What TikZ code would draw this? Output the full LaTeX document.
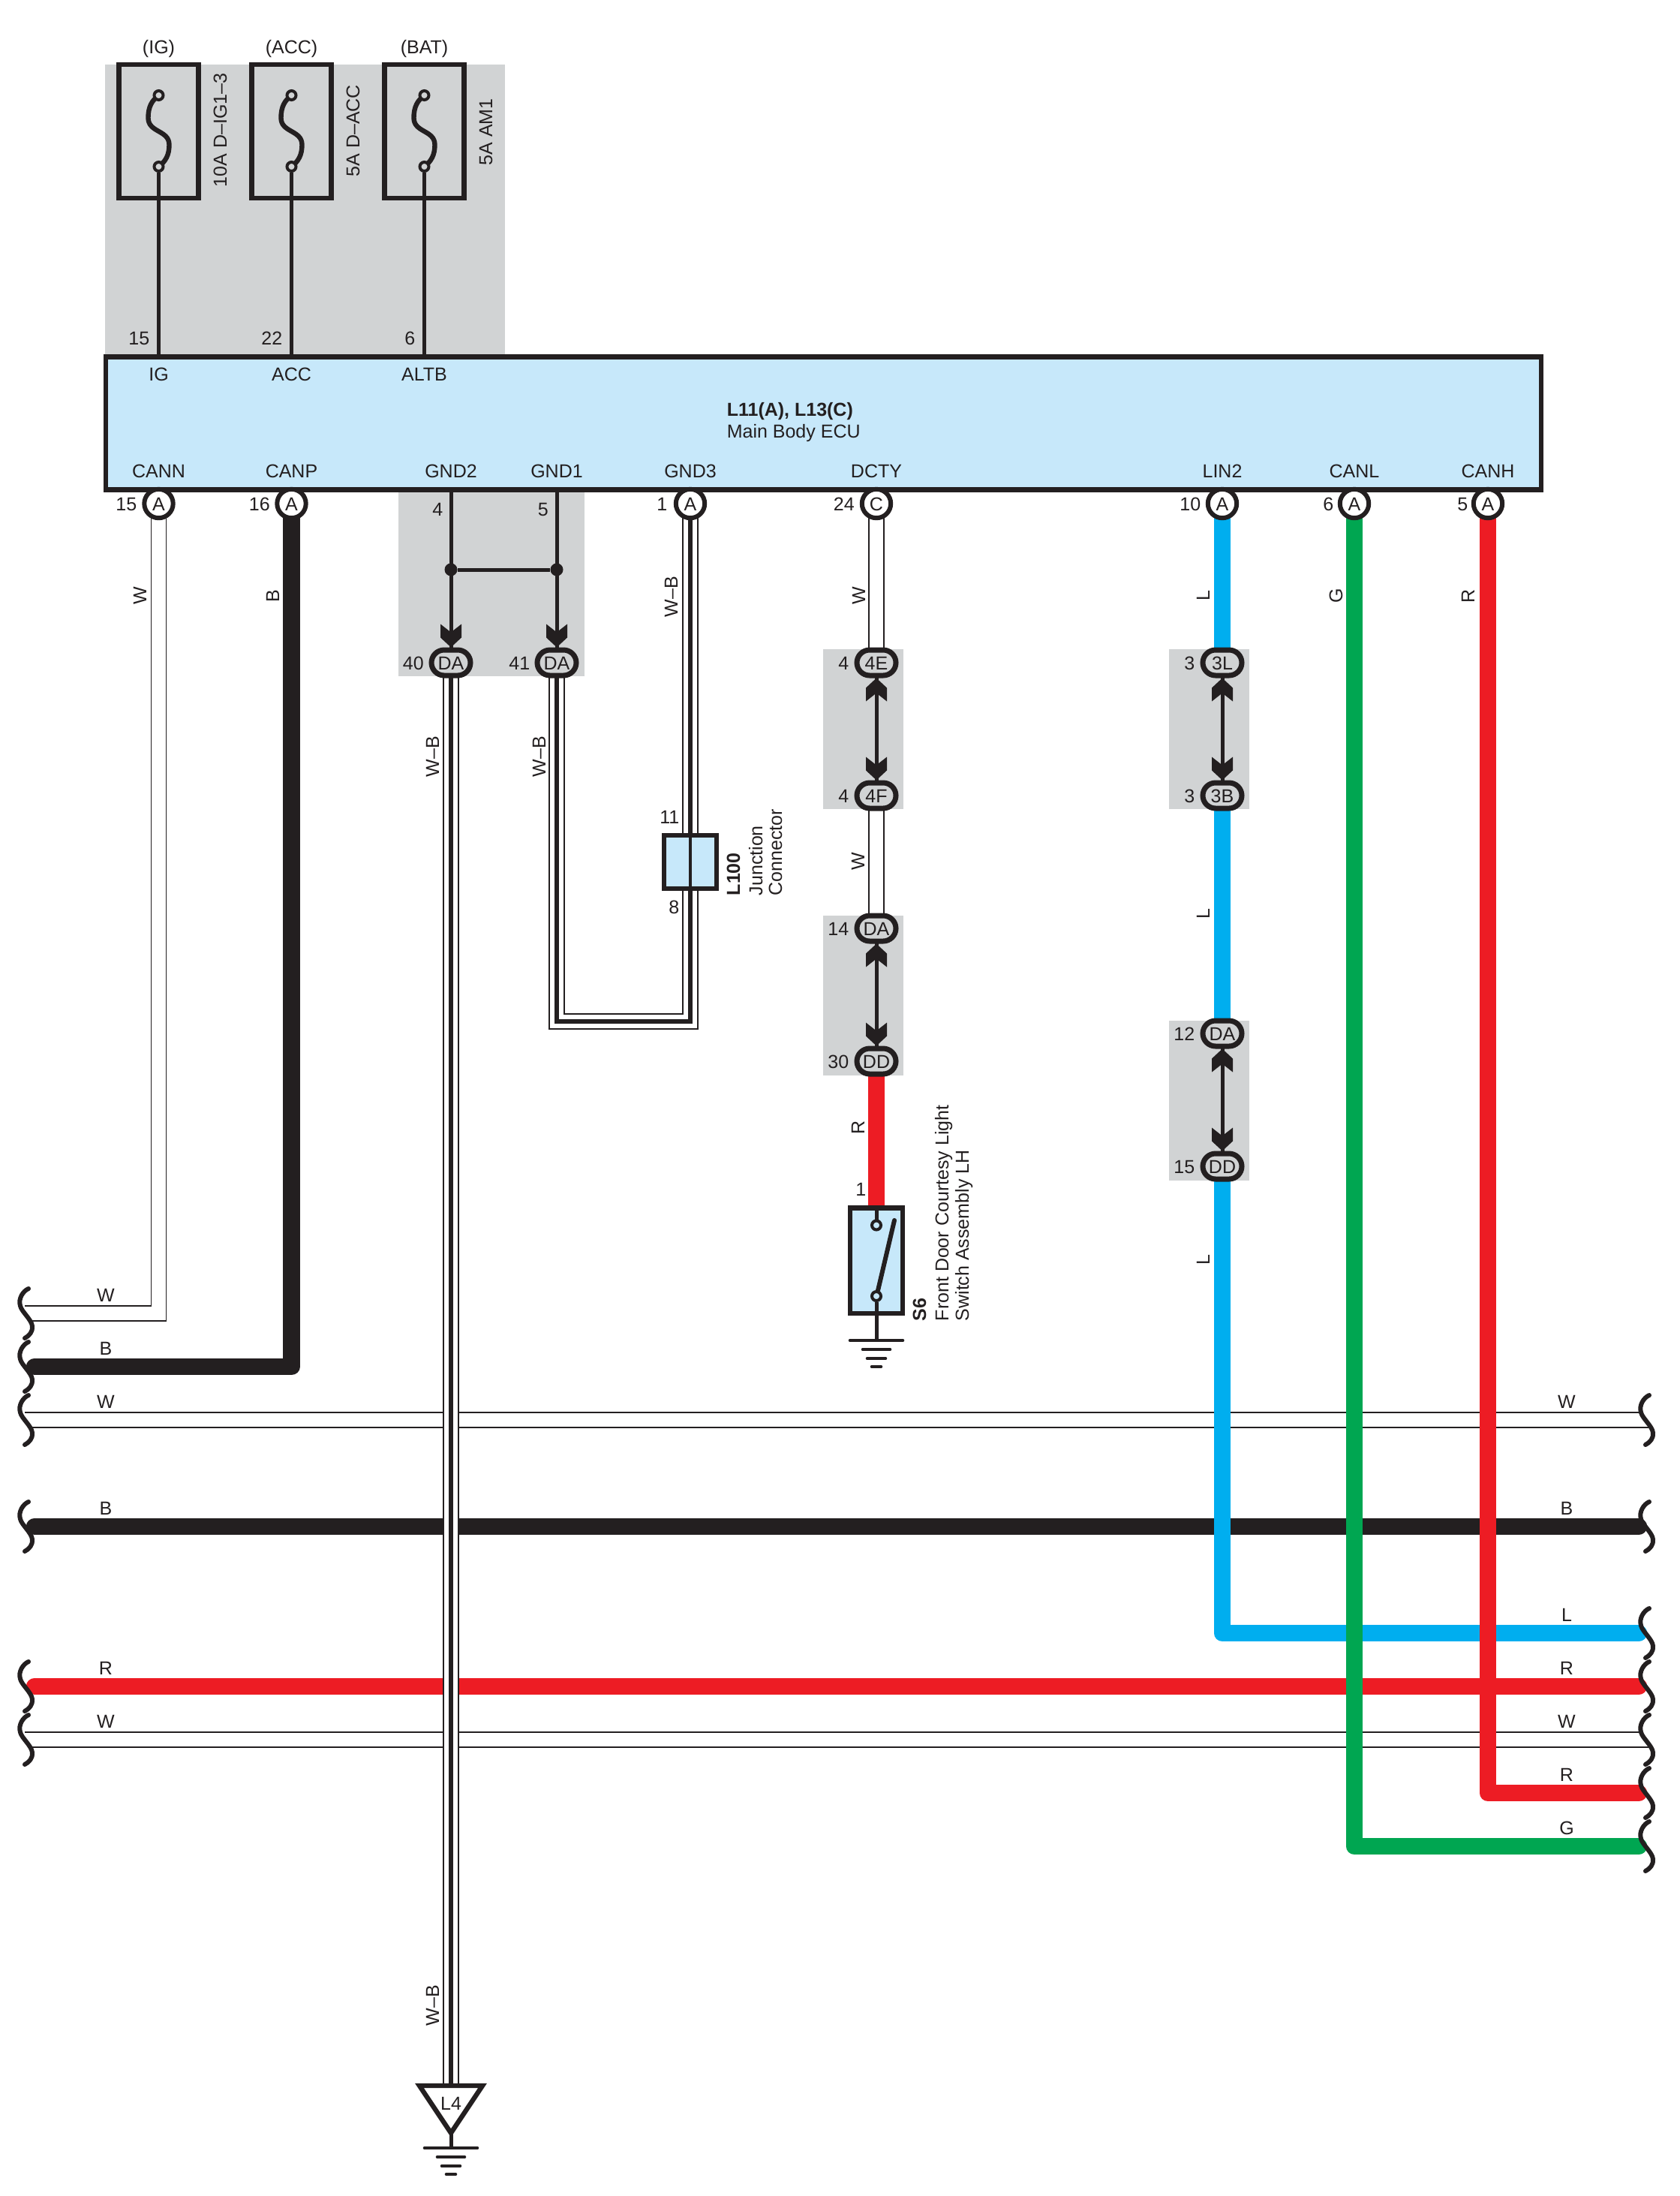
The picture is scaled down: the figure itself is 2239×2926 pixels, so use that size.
\documentclass[tikz,border=0pt]{standalone}
\usepackage{fontspec}
\setmainfont{Liberation Sans}

\definecolor{ink}{HTML}{231F20}
\definecolor{panel}{HTML}{D1D3D4}
\definecolor{ecublue}{HTML}{C7E8FA}
\definecolor{wblue}{HTML}{00AEEF}
\definecolor{wred}{HTML}{ED1C24}
\definecolor{wgreen}{HTML}{00A651}

\pgfdeclarelayer{wires}
\pgfsetlayers{wires,main}

\tikzset{
  lab/.style={text height=4.5pt, text depth=0pt},
  vlab/.style={lab, rotate=90},
  vstart/.style={lab, rotate=90, anchor=west},
  pinnum/.style={lab, anchor=east, xshift=.5pt},
  comp/.style={draw=ink, line width=1.6pt, rectangle},
  conn/.style={lab, draw=ink, fill=white, circle, line width=1.5pt, minimum size=9.6pt},
  oval/.style={lab, draw=ink, fill=panel, rectangle, line width=1.75pt, rounded corners=4.25pt, minimum width=13pt, minimum height=8.5pt},
  term/.style={draw=ink, circle, line width=1pt, minimum size=3pt},
  dot/.style={fill=ink, circle, minimum size=4.25pt},
  fine/.style={draw=ink, line width=1.25pt},
  hair/.style={draw=ink, line width=.375pt},
  wirew/.style={draw=ink, line width=.375pt, double=white, double distance=4.625pt, line join=miter},
  wirecore/.style={draw=ink, line width=1.5pt, line join=miter},
  thickwire/.style={line width=5.6pt, line cap=round, line join=round},
  wireb/.style={thickwire, draw=ink},
  wirer/.style={thickwire, draw=wred},
  wirel/.style={thickwire, draw=wblue},
  wireg/.style={thickwire, draw=wgreen},
  chev/.pic={\fill[ink] (-14,-31) -- (0,-20) -- (14,-31) -- (14,-13) -- (0,0) -- (-14,-13) -- cycle;},
  squig/.pic={\draw[ink, line width=1.5pt, line cap=round] (3,-33) .. controls (-4,-30) and (-11,-20) .. (-8,-10) .. controls (-6,-2) and (7,8) .. (8,17) .. controls (9,24) and (4,30) .. (-2,33);},
  fusewave/.pic={\draw[ink, line width=1.6pt] (0,0) .. controls (-9,7) and (-14,15) .. (-14,30) .. controls (-14,50) and (14,46) .. (14,66) .. controls (14,80) and (9,88) .. (0,95);},
  earth/.pic={
    \draw[ink, line width=1.15pt, line cap=round] (-35,0) -- (35,0);
    \draw[ink, line width=1.15pt, line cap=round] (-18,12) -- (18,12);
    \draw[ink, line width=1.15pt, line cap=round] (-12,24) -- (12,24);
    \draw[ink, line width=1.15pt, line cap=round] (-6,35) -- (6,35);
  }
}

\newcommand{\wirewb}[1]{\draw[wirew] #1; \draw[wirecore] #1;}

\begin{document}
\begin{tikzpicture}[x=0.25pt, y=-0.25pt, every node/.style={font=\fontsize{6.25}{7.5}\selectfont, text=ink, inner sep=0pt}]

\useasboundingbox (0,0) rectangle (2239,2926);

\node[comp, fill=ecublue, minimum width=478.25pt, minimum height=44.2pt] (ecu) at (1097.5,564) {};
\node[lab, anchor=west, font=\fontsize{6.25}{7.5}\selectfont\bfseries] (ecuid) at (968,545) {L11(A), L13(C)};
\node[lab, anchor=west] (ecuname) at (968,574) {Main Body ECU};

\node[comp, minimum width=26.5pt, minimum height=44.5pt] (fuse1) at (211.5,175) {};
\node[comp, minimum width=26.5pt, minimum height=44.5pt] (fuse2) at (388.5,175) {};
\node[comp, minimum width=26.5pt, minimum height=44.5pt] (fuse3) at (565.5,175) {};
\node[term, fill=panel] (f1t) at (211.5,127) {};
\node[term, fill=panel] (f1b) at (211.5,222) {};
\node[term, fill=panel] (f2t) at (388.5,127) {};
\node[term, fill=panel] (f2b) at (388.5,222) {};
\node[term, fill=panel] (f3t) at (565.5,127) {};
\node[term, fill=panel] (f3b) at (565.5,222) {};

\node[lab] (srcig) at (211.5,62) {(IG)};
\node[lab] (srcacc) at (388.5,62) {(ACC)};
\node[lab] (srcbat) at (565.5,62) {(BAT)};
\node[vstart] (fusename1) at (293,250) {10A D–IG1–3};
\node[vstart] (fusename2) at (470,236) {5A D–ACC};
\node[vstart] (fusename3) at (647,221) {5A AM1};

\node[pinnum] (n15t) at (198,450) {15};
\node[pinnum] (n22t) at (375,450) {22};
\node[pinnum] (n6t) at (552,450) {6};
\node[lab] (tig) at (211.5,498) {IG};
\node[lab] (tacc) at (388.5,498) {ACC};
\node[lab] (taltb) at (565.5,498) {ALTB};

\node[lab] (tcann) at (211.5,627) {CANN};
\node[lab] (tcanp) at (388.5,627) {CANP};
\node[lab] (tgnd2) at (601,627) {GND2};
\node[lab] (tgnd1) at (742,627) {GND1};
\node[lab] (tgnd3) at (920,627) {GND3};
\node[lab] (tdcty) at (1168,627) {DCTY};
\node[lab] (tlin2) at (1629,627) {LIN2};
\node[lab] (tcanl) at (1805,627) {CANL};
\node[lab] (tcanh) at (1983,627) {CANH};

\node[conn] (cann) at (211.5,671) {A};
\node[conn] (canp) at (388.5,671) {A};
\node[conn] (gnd3) at (920,671) {A};
\node[conn] (dcty) at (1168,671) {C};
\node[conn] (lin2) at (1629,671) {A};
\node[conn] (canl) at (1805,671) {A};
\node[conn] (canh) at (1983,671) {A};

\node[pinnum] (n15) at (181,671) {15};
\node[pinnum] (n16) at (358.5,671) {16};
\node[pinnum] (n1) at (888,671) {1};
\node[pinnum] (n24) at (1137.5,671) {24};
\node[pinnum] (n10) at (1599,671) {10};
\node[pinnum] (n6) at (1776,671) {6};
\node[pinnum] (n5) at (1955,671) {5};

\node[dot] (j2) at (601,759) {};
\node[dot] (j1) at (742,759) {};
\node[pinnum] (n4b) at (589,678) {4};
\node[pinnum] (n5b) at (729.5,678) {5};
\node[oval] (da40) at (601,883) {DA};
\node[oval] (da41) at (742,883) {DA};
\node[pinnum] (n40) at (563.5,883) {40};
\node[pinnum] (n41) at (705,883) {41};

\node[oval] (o4e) at (1168,883) {4E};
\node[oval] (o4f) at (1168,1060) {4F};
\node[oval] (oda1) at (1168,1237) {DA};
\node[oval] (odd1) at (1168,1414) {DD};
\node[pinnum] (n4e) at (1130,883) {4};
\node[pinnum] (n4f) at (1130,1060) {4};
\node[pinnum] (n14) at (1130,1237) {14};
\node[pinnum] (n30) at (1130,1414) {30};

\node[oval] (o3l) at (1629,883) {3L};
\node[oval] (o3b) at (1629,1060) {3B};
\node[oval] (oda2) at (1629,1377) {DA};
\node[oval] (odd2) at (1629,1554) {DD};
\node[pinnum] (n3l) at (1591,883) {3};
\node[pinnum] (n3b) at (1591,1060) {3};
\node[pinnum] (n12) at (1591,1377) {12};
\node[pinnum] (n15d) at (1591,1554) {15};

\node[comp, fill=ecublue, minimum width=17.5pt, minimum height=17.75pt] (l100) at (920,1148.5) {};
\node[pinnum] (n11j) at (904,1088) {11};
\node[pinnum] (n8j) at (904,1208) {8};
\node[vstart, font=\fontsize{6.25}{7.5}\selectfont\bfseries] (l100id) at (977,1194) {L100};
\node[vstart] (l100a) at (1007,1194) {Junction};
\node[vstart] (l100b) at (1033,1194) {Connector};

\node[comp, fill=ecublue, minimum width=17.6pt, minimum height=35.1pt] (s6) at (1168,1679.5) {};
\node[term, fill=ecublue] (swt) at (1168,1632.5) {};
\node[term, fill=ecublue] (swb) at (1168,1727) {};
\coordinate (swarm) at (1192,1626);
\coordinate (s6g) at (1168,1786);
\node[pinnum] (n1s) at (1153,1584) {1};
\node[vstart, font=\fontsize{6.25}{7.5}\selectfont\bfseries] (s6id) at (1225,1761) {S6};
\node[vstart] (s6a) at (1255,1761) {Front Door Courtesy Light};
\node[vstart] (s6b) at (1282,1761) {Switch Assembly LH};

\draw[fine] (swt.north) -- (s6.north);
\draw[fine, line width=1.5pt, line cap=round] (swb.75) -- (swarm);
\draw[fine] (swb.south) -- (s6g);
\pic at (s6g) {earth};

\node[lab] (nl4) at (601,2802) {L4};
\coordinate (l4a) at (559,2779);
\coordinate (l4b) at (643,2779);
\coordinate (l4c) at (601,2842);
\coordinate (l4g) at (601,2862);
\draw[ink, line width=1.6pt] (l4a) -- (l4b) -- (l4c) -- cycle;
\draw[fine] (l4c) -- (l4g);
\pic at (l4g) {earth};

\node[vlab] (lw1) at (186,794) {W};
\node[vlab] (lb1) at (363,794) {B};
\node[vlab] (lwb1) at (894,795) {W–B};
\node[vlab] (lw2) at (1144,794) {W};
\node[vlab] (lw3) at (1143,1148) {W};
\node[vlab] (lr1) at (1143,1502) {R};
\node[vlab] (ll1) at (1603,794) {L};
\node[vlab] (ll2) at (1603,1218) {L};
\node[vlab] (ll3) at (1603,1679) {L};
\node[vlab] (lg1) at (1780,794) {G};
\node[vlab] (lr2) at (1956,794) {R};
\node[vlab] (lwb2) at (576,1008) {W–B};
\node[vlab] (lwb3) at (718,1008) {W–B};
\node[vlab] (lwb4) at (576,2672) {W–B};

\node[lab] (hw1) at (141,1725) {W};
\node[lab] (hb1) at (141,1796) {B};
\node[lab] (hw2) at (141,1867) {W};
\node[lab] (hb2) at (141,2009) {B};
\node[lab] (hr1) at (141,2222) {R};
\node[lab] (hw3) at (141,2293) {W};
\node[lab] (rw1) at (2088,1867) {W};
\node[lab] (rb1) at (2088,2009) {B};
\node[lab] (rl1) at (2088,2151) {L};
\node[lab] (rr1) at (2088,2222) {R};
\node[lab] (rw2) at (2088,2293) {W};
\node[lab] (rr2) at (2088,2364) {R};
\node[lab] (rg1) at (2088,2435) {G};

\pic at (da40.north) {chev};
\pic at (da41.north) {chev};
\pic[rotate=180] at (o4e.south) {chev};
\pic at (o4f.north) {chev};
\pic[rotate=180] at (oda1.south) {chev};
\pic at (odd1.north) {chev};
\pic[rotate=180] at (o3l.south) {chev};
\pic at (o3b.north) {chev};
\pic[rotate=180] at (oda2.south) {chev};
\pic at (odd2.north) {chev};

\pic at (35,1750) {squig};
\pic at (35,1821) {squig};
\pic at (35,1892) {squig};
\pic at (35,2034) {squig};
\pic at (35,2247) {squig};
\pic at (35,2318) {squig};
\pic at (2195,1892) {squig};
\pic at (2195,2034) {squig};
\pic at (2195,2176) {squig};
\pic at (2195,2247) {squig};
\pic at (2195,2318) {squig};
\pic at (2195,2389) {squig};
\pic at (2195,2460) {squig};

\coordinate (wl1a) at (33,1740);
\coordinate (wl1b) at (43,1760);
\coordinate (bl1) at (46,1821);
\coordinate (wl2a) at (33,1882);
\coordinate (wl2b) at (43,1902);
\coordinate (wr2a) at (2187,1882);
\coordinate (wr2b) at (2197,1902);
\coordinate (bl2) at (46,2034);
\coordinate (br2) at (2184,2034);
\coordinate (rl1c) at (46,2247);
\coordinate (rr1c) at (2184,2247);
\coordinate (wl3a) at (33,2308);
\coordinate (wl3b) at (43,2328);
\coordinate (wr3a) at (2187,2308);
\coordinate (wr3b) at (2197,2328);
\coordinate (lr1c) at (2184,2176);
\coordinate (rr2c) at (2184,2389);
\coordinate (gr1c) at (2184,2460);
\coordinate (l4top) at (601,2779);
\coordinate (u41) at (920,1361);

\begin{pgfonlayer}{wires}
\fill[panel] (140,86) rectangle (673,476);
\fill[panel] (530.5,652) rectangle (779,901);
\fill[panel] (1097,865) rectangle (1204,1078);
\fill[panel] (1097,1220) rectangle (1204,1433);
\fill[panel] (1558,865) rectangle (1665,1078);
\fill[panel] (1558,1360) rectangle (1665,1573);

\pic at (f1t) {fusewave};
\pic at (f2t) {fusewave};
\pic at (f3t) {fusewave};
\draw[fine] (f1b.south) -- (f1b |- ecu.north);
\draw[fine] (f2b.south) -- (f2b |- ecu.north);
\draw[fine] (f3b.south) -- (f3b |- ecu.north);

\draw[fine] (j2 |- ecu.south) -- (da40.north);
\draw[fine] (j1 |- ecu.south) -- (da41.north);
\draw[fine] (j2) -- (j1);
\draw[fine] (o4e.center) -- (o4f.center);
\draw[fine] (oda1.center) -- (odd1.center);
\draw[fine] (o3l.center) -- (o3b.center);
\draw[fine] (oda2.center) -- (odd2.center);

\draw[hair] (wl2a) -- (wr2a);
\draw[hair] (wl2b) -- (wr2b);
\draw[hair] (wl3a) -- (wr3a);
\draw[hair] (wl3b) -- (wr3b);
\draw[wireb] (bl2) -- (br2);
\draw[wirer] (rl1c) -- (rr1c);

\draw[hair] ([xshift=-2.5pt]cann.center) |- (wl1a);
\draw[hair] ([xshift=2.5pt]cann.center) |- (wl1b);
\draw[wireb] (canp.center) |- (bl1);

\draw[wirew] (dcty.center) -- (o4e.center);
\draw[wirew] (o4f.center) -- (oda1.center);
\draw[wirer] (odd1.center) -- (s6.center);

\draw[wirel] (lin2.center) -- (o3l.center);
\draw[wirel] (o3b.center) -- (oda2.center);
\draw[wirel] (odd2.center) |- (lr1c);
\draw[wireg] (canl.center) |- (gr1c);
\draw[wirer] (canh.center) |- (rr2c);

\wirewb{(da40.center) -- (l4top)}
\wirewb{(da41.center) |- (u41) -- (l100.center)}
\wirewb{(gnd3.center) -- (l100.center)}
\end{pgfonlayer}

\draw[fine, line width=1pt] (l100.north) -- (l100.south);

\end{tikzpicture}
\end{document}
